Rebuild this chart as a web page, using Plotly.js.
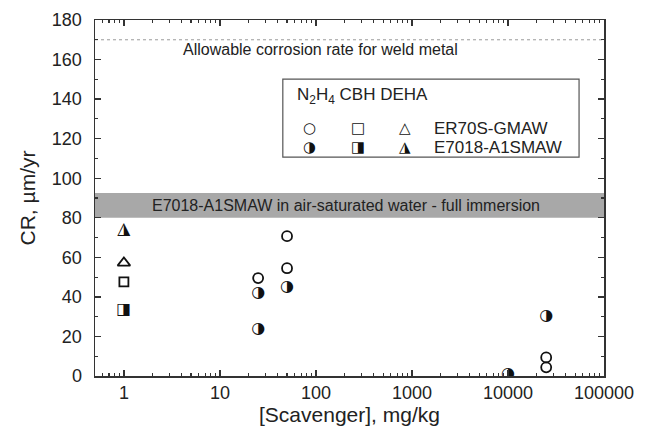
<!DOCTYPE html>
<html><head><meta charset="utf-8">
<script src="https://cdn.plot.ly/plotly-3.0.1.min.js"></script>
<style>html,body{margin:0;padding:0;background:#fff}#chart{width:649px;height:433px}</style>
</head><body><div id="chart"></div>
<script>
// N2H4 (circles)
const n2h4X_ER70S = [25, 50, 50, 25000, 25000];
const n2h4Y_ER70S = [49.5, 70.7, 54.5, 9.4, 4.4];
const n2h4X_E7018 = [25, 25, 50, 10000, 25000];
const n2h4Y_E7018 = [41.9, 23.7, 44.9, 0.9, 30.2];
// CBH (squares)
const cbhX_ER70S = [1];
const cbhY_ER70S = [47.6];
const cbhX_E7018 = [1];
const cbhY_E7018 = [33.4];
// DEHA (triangles)
const dehaX_ER70S = [1];
const dehaY_ER70S = [57.2];
const dehaX_E7018 = [1];
const dehaY_E7018 = [74];
// reference levels
const allowableRate = [170];
const immersionBand = [80, 92.5];
// ticks
const xTickVals = [1, 10, 100, 1000, 10000, 100000];
const xTickText = ['1', '10', '100', '1000', '10000', '100000'];
const yTickVals = [0, 20, 40, 60, 80, 100, 120, 140, 160, 180];
const yTickText = ['0', '20', '40', '60', '80', '100', '120', '140', '160', '180'];
// legend texts
const scavengers = ['N<sub>2</sub>H<sub>4</sub>', 'CBH', 'DEHA'];
const metals = ['ER70S-GMAW', 'E7018-A1SMAW'];
const openGlyphs = ['\u25CB', '\u25A1', '\u25B3'];
const halfGlyphs = ['\u25D1', '\u25E8', '\u25EE'];
const glyphSizes = [16, 16, 17];
const legendGlyphSize = 15;

const FONT = 'Liberation Sans, Arial, Helvetica, sans-serif';
const GLYPHFONT = 'DejaVu Sans';
const INK = '#111';

function openTrace(x, y, symbol, size) {
  return {x: x, y: y, type: 'scatter', mode: 'markers', hoverinfo: 'x+y',
    marker: {symbol: symbol, size: size, color: INK, line: {color: INK, width: 1.8}}};
}
function halfTrace(x, y, glyph, size) {
  return {x: x, y: y, type: 'scatter', mode: 'text', text: x.map(() => glyph),
    textposition: 'middle center', hoverinfo: 'x+y',
    textfont: {family: GLYPHFONT, size: size, color: INK, weight: 'bold'}};
}

const data = [
  openTrace(n2h4X_ER70S, n2h4Y_ER70S, 'circle-open', 10),
  halfTrace(n2h4X_E7018, n2h4Y_E7018, halfGlyphs[0], glyphSizes[0]),
  openTrace(cbhX_ER70S, cbhY_ER70S, 'square-open', 9),
  halfTrace(cbhX_E7018, cbhY_E7018, halfGlyphs[1], glyphSizes[1]),
  openTrace(dehaX_ER70S, dehaY_ER70S, 'triangle-up-open', 11),
  halfTrace(dehaX_E7018, dehaY_E7018, halfGlyphs[2], glyphSizes[2])
];

const L = {x0: 0.369, x1: 0.951, y0: 0.615, y1: 0.834};
const symX = [0.422, 0.517, 0.609];
const rowY = [0.696, 0.643];
const labelX = 0.662;

const annotations = [
  {xref: 'paper', yref: 'y', x: 0.444, y: 165.2, text: 'Allowable corrosion rate for weld metal',
   showarrow: false, font: {family: FONT, size: 16, color: '#222'}, xanchor: 'center', yanchor: 'middle'},
  {xref: 'paper', yref: 'y', x: 0.493, y: (immersionBand[0] + immersionBand[1]) / 2,
   text: 'E7018-A1SMAW in air-saturated water - full immersion',
   showarrow: false, font: {family: FONT, size: 16, color: '#222'}, xanchor: 'center', yanchor: 'middle'},
  {xref: 'paper', yref: 'paper', x: 0.393, y: 0.787, xanchor: 'left', yanchor: 'middle',
   text: scavengers.join(' '), showarrow: false, font: {family: FONT, size: 17, color: '#222'}}
];
metals.forEach((m, r) => {
  annotations.push({xref: 'paper', yref: 'paper', x: labelX, y: rowY[r], xanchor: 'left', yanchor: 'middle',
    text: m, showarrow: false, font: {family: FONT, size: 17, color: '#222'}});
  const glyphs = r === 0 ? openGlyphs : halfGlyphs;
  glyphs.forEach((g, c) => {
    annotations.push({xref: 'paper', yref: 'paper', x: symX[c], y: rowY[r], xanchor: 'center', yanchor: 'middle',
      text: g, showarrow: false, font: {family: GLYPHFONT, size: legendGlyphSize, color: INK, weight: 'bold'}});
  });
});

const layout = {
  width: 649, height: 433,
  margin: {l: 95, r: 45, t: 20, b: 57},
  paper_bgcolor: '#fff', plot_bgcolor: '#fff',
  showlegend: false,
  font: {family: FONT, size: 18, color: '#222'},
  xaxis: {
    type: 'log', range: [Math.log10(0.5), 5],
    tickmode: 'array', tickvals: xTickVals, ticktext: xTickText,
    ticks: 'inside', ticklen: 6, tickwidth: 1.3, tickcolor: '#333',
    minor: {ticks: 'inside', ticklen: 3, tickwidth: 1.1, tickcolor: '#333', dtick: 'D1', showgrid: false},
    showline: true, linecolor: '#333', linewidth: 1.5, mirror: 'ticks',
    showgrid: false, zeroline: false,
    tickfont: {family: FONT, size: 18, color: '#222'},
    title: {text: '[Scavenger], mg/kg', font: {family: FONT, size: 21, color: '#222'}, standoff: 4}
  },
  yaxis: {
    range: [0, 180],
    tickmode: 'array', tickvals: yTickVals, ticktext: yTickText,
    ticks: 'inside', ticklen: 6, tickwidth: 1.3, tickcolor: '#333',
    minor: {ticks: 'inside', ticklen: 3, tickwidth: 1.1, tickcolor: '#333', dtick: 10, showgrid: false},
    showline: true, linecolor: '#333', linewidth: 1.5, mirror: 'ticks',
    showgrid: false, zeroline: false,
    ticklabelstandoff: 8,
    tickfont: {family: FONT, size: 18, color: '#222'},
    title: {text: 'CR, \u00B5m/yr', font: {family: FONT, size: 21, color: '#222'}, standoff: 10}
  },
  shapes: [
    {type: 'rect', xref: 'paper', yref: 'y', x0: 0, x1: 1, y0: immersionBand[0], y1: immersionBand[1],
     fillcolor: '#a8a8a8', line: {width: 0}, layer: 'below'},
    {type: 'line', xref: 'paper', yref: 'y', x0: 0, x1: 1, y0: allowableRate[0], y1: allowableRate[0],
     line: {color: '#9a9a9a', width: 1, dash: 'dot'}, layer: 'below'},
    {type: 'rect', xref: 'paper', yref: 'paper', x0: L.x0, x1: L.x1, y0: L.y0, y1: L.y1,
     fillcolor: 'rgba(0,0,0,0)', line: {color: '#555', width: 1.2}}
  ],
  annotations: annotations
};

Plotly.newPlot('chart', data, layout, {displayModeBar: false, staticPlot: true});
</script>
</body></html>
